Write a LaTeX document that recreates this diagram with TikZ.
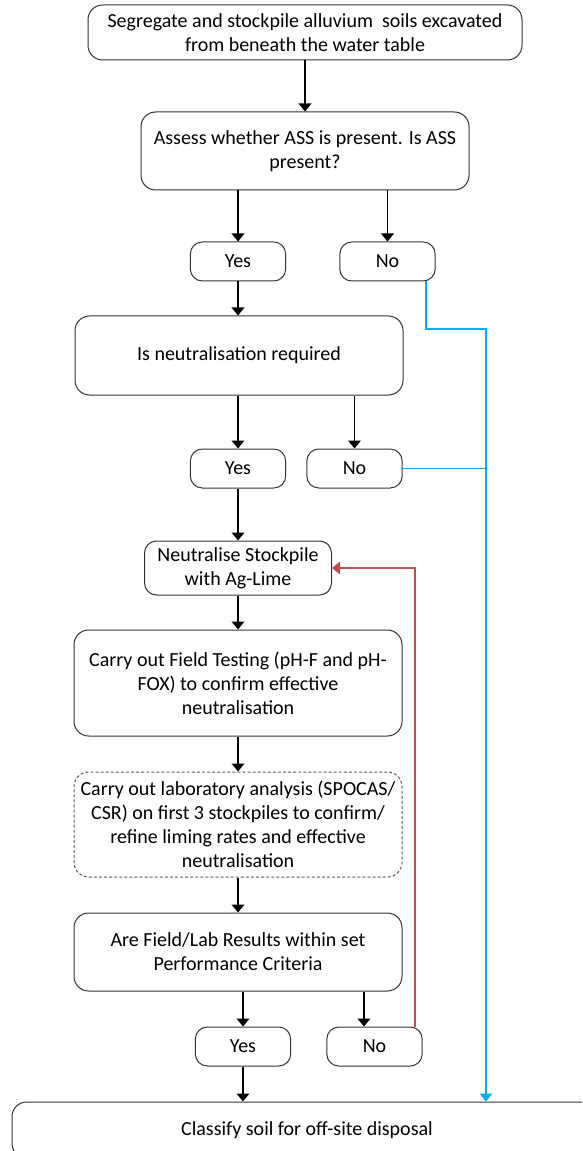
\documentclass[tikz,border=0pt]{standalone}
\usepackage{fontspec}
\setmainfont{Carlito}
\usepackage{tikz}
\usetikzlibrary{arrows.meta}

\definecolor{lineblue}{RGB}{0,176,240}
\definecolor{linered}{RGB}{192,80,77}

\begin{document}
\begin{tikzpicture}[x=0.75pt,y=0.75pt,yscale=-1,xscale=1,
	box/.style={draw={black!80},line width=0.75pt,rounded corners=11pt,align=center,inner sep=2pt,font=\fontsize{15}{18}\selectfont},
	dashbox/.style={box,draw={black!65},dash pattern={on 2.2pt off 1.6pt}},
	choice/.style={box,rounded corners=9pt,minimum width=71.5pt,minimum height=29.25pt},
	arr/.style={line width=1.1pt,-{Triangle[width=9.5pt,length=6pt]}}]
		\clip (0,0) rectangle (582,1151);

		%Shape: Rounded Rect [id:top]
		\node (b1) [box,minimum width=325.5pt,minimum height=41.25pt] at (305,32.5) {Segregate and stockpile alluvium\ \ soils excavated\\from beneath the water table};
		%Shape: Rounded Rect [id:assess]
		\node (b2) [box,minimum width=246pt,minimum height=58.5pt] at (305,151) {Assess whether ASS is present. Is ASS\\present?};
		\node (yes1) [choice] at (238,261.5) {Yes};
		\node (no1) [choice] at (387.5,261.5) {No};
		%Shape: Rounded Rect [id:neutreq]
		\node (b3) [box,minimum width=246pt,minimum height=59.25pt] at (239,355.5) {Is neutralisation required};
		\node (yes2) [choice] at (238,468.5) {Yes};
		\node (no2) [choice] at (354.5,468.5) {No};
		%Shape: Rounded Rect [id:lime]
		\node (b4) [box,rounded corners=9pt,minimum width=140.25pt,minimum height=40.5pt] at (238,568) {Neutralise Stockpile\\with Ag-Lime};
		%Shape: Rounded Rect [id:field]
		\node (b5) [box,minimum width=246pt,minimum height=79.5pt] at (238,683) {Carry out Field Testing (pH-F and pH-\\FOX) to confirm effective\\neutralisation};
		%Shape: Rounded Rect [id:lab]
		\node (b6) [dashbox,minimum width=246pt,minimum height=78.75pt] at (238,824.5) {Carry out laboratory analysis (SPOCAS/\\CSR) on first 3 stockpiles to confirm/\\refine liming rates and effective\\neutralisation};
		%Shape: Rounded Rect [id:criteria]
		\node (b7) [box,minimum width=246pt,minimum height=58.5pt] at (238,952) {Are Field/Lab Results within set\\Performance Criteria};
		\node (yes3) [choice] at (243,1046.5) {Yes};
		\node (no3) [choice] at (374.5,1046.5) {No};
		%Shape: Rounded Rect [id:classify]
		\node (cls) [box,minimum width=442.5pt,minimum height=42pt] at (307,1130) {Classify soil for off-site disposal};

		\coordinate (bend) at (486,329);
		\coordinate (join) at (486,468.5);

		%Straight Lines
		\draw [arr] (b1) -- (b2);
		\draw [arr] (b2.south -| yes1) -- (yes1.north);
		\draw [arr] (b2.south -| no1) -- (no1.north);
		\draw [arr] (yes1.south) -- (yes1.south |- b3.north);
		\draw [arr] (b3.south -| yes2) -- (yes2.north);
		\draw [arr] (b3.south -| no2) -- (no2.north);
		\draw [arr] (yes2.south) -- (yes2.south |- b4.north);
		\draw [arr] (b4.south) -- (b4.south |- b5.north);
		\draw [arr] (b5.south) -- (b5.south |- b6.north);
		\draw [arr] (b6.south) -- (b6.south |- b7.north);
		\draw [arr] (b7.south -| yes3) -- (yes3.north);
		\draw [arr] ([xshift=-7.9pt]no3.north |- b7.south) -- ([xshift=-7.9pt]no3.north);
		\draw [arr] (yes3.south) -- (yes3.south |- cls.north);

		%Loop back
		\draw [arr,color=linered] ([xshift=30.4pt]no3.north) |- (b4.east);

		%No branches
		\draw [arr,color=lineblue] ([xshift=28.9pt]no1.south) |- (bend) -- (bend |- cls.north);
		\draw [line width=1.1pt,color=lineblue] (no2.east) -- (join);

\end{tikzpicture}
\end{document}
